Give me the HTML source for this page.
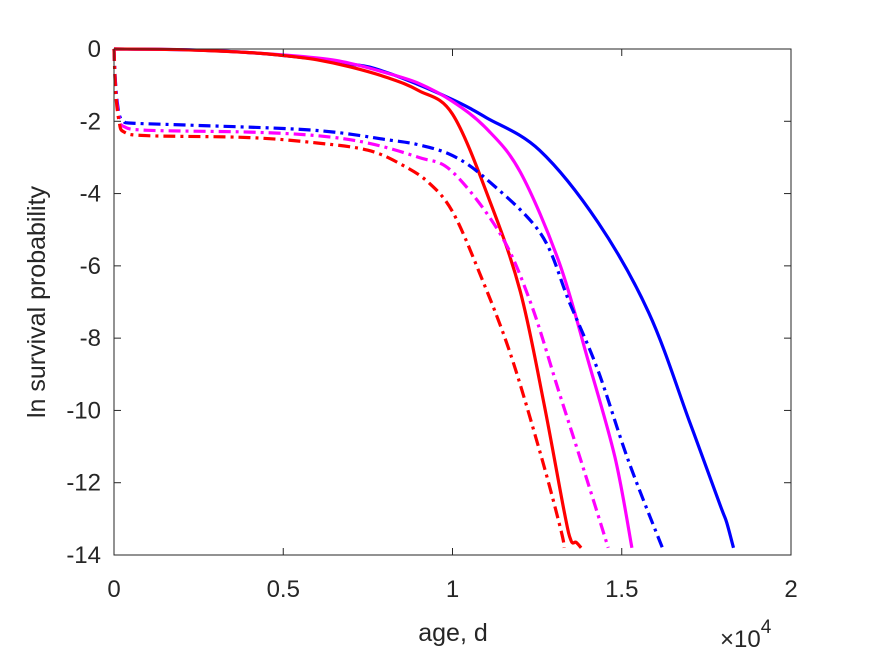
<!DOCTYPE html>
<html><head><meta charset="utf-8"><style>
body{margin:0;background:#fff}
svg text{font-family:"Liberation Sans",Arial,sans-serif;fill:#262626}
</style></head><body>
<svg id="chart" width="875" height="656" xmlns="http://www.w3.org/2000/svg" style="position:absolute;left:0;top:0">
<rect width="875" height="656" fill="#fff"/>
<g id="plot"></g>
<g id="axes"></g>
<text x="453" y="641" font-size="25" text-anchor="middle">age, d</text>
<text x="720" y="647" font-size="24">×10<tspan dy="-14" font-size="19">4</tspan></text>
<text transform="translate(45,302) rotate(-90)" font-size="25" text-anchor="middle">ln survival probability</text>
</svg>
<script>
const xTicks=[0,0.5,1,1.5,2];
const yTicks=[0,-2,-4,-6,-8,-10,-12,-14];
const blueSolidX=[0,1000,2000,3000,4000,5000,6000,7000,7550,8500,10000,11000,12570,14300,15800,17000,17900,18100,18300];
const blueSolidY=[0,-0.005,-0.02,-0.05,-0.1,-0.18,-0.28,-0.42,-0.5,-0.8,-1.4,-1.9,-2.8,-4.8,-7.3,-10.3,-12.6,-13.1,-13.8];
const magSolidX=[0,2000,4000,6000,7000,8000,9000,10000,11000,12000,13150,14000,14800,15300];
const magSolidY=[0,-0.02,-0.1,-0.25,-0.4,-0.65,-0.95,-1.45,-2.2,-3.4,-5.9,-8.6,-11.3,-13.8];
const redSolidX=[0,2000,4000,5000,6000,7000,8100,9000,10000,11100,12000,12700,13300,13500,13650,13800];
const redSolidY=[0,-0.02,-0.1,-0.18,-0.3,-0.5,-0.8,-1.15,-1.8,-4.2,-6.7,-9.8,-12.8,-13.6,-13.65,-13.8];
const blueDashX=[0,50,150,300,500,2000,5000,6500,8000,9000,10000,11000,12600,13450,14300,15200,16200];
const blueDashY=[0,-1.0,-1.8,-2.0,-2.05,-2.1,-2.2,-2.3,-2.5,-2.65,-2.95,-3.6,-5.1,-7,-8.9,-11.4,-13.8];
const magDashX=[0,50,150,300,1000,4000,6000,7500,9000,10000,11400,12300,13150,13900,14600];
const magDashY=[0,-1.1,-1.9,-2.15,-2.25,-2.3,-2.4,-2.6,-3.0,-3.4,-5.1,-7,-9.5,-11.7,-13.8];
const redDashX=[0,50,150,300,1000,4000,6000,7500,8500,9300,10000,10800,11700,12600,13200,13300];
const redDashY=[0,-1.2,-2.0,-2.3,-2.4,-2.45,-2.6,-2.8,-3.2,-3.7,-4.5,-6.2,-8.4,-11.2,-13.3,-13.8];

const L=114,R=791,T=49,B=555;
const sx=v=>L+v/20000*(R-L);
const sy=v=>T+(-v)/14*(B-T);
const NS="http://www.w3.org/2000/svg";
const plot=document.getElementById('plot'),axes=document.getElementById('axes');
function mk(tag,attrs,parent){const e=document.createElementNS(NS,tag);for(const k in attrs)e.setAttribute(k,attrs[k]);parent.appendChild(e);return e;}
function smooth(pts){
  let d='M'+pts[0][0].toFixed(1)+' '+pts[0][1].toFixed(1);
  for(let i=0;i<pts.length-1;i++){
    const p0=pts[Math.max(0,i-1)],p1=pts[i],p2=pts[i+1],p3=pts[Math.min(pts.length-1,i+2)];
    const c1=[p1[0]+(p2[0]-p0[0])/6,p1[1]+(p2[1]-p0[1])/6];
    const c2=[p2[0]-(p3[0]-p1[0])/6,p2[1]-(p3[1]-p1[1])/6];
    d+=' C'+c1[0].toFixed(1)+' '+c1[1].toFixed(1)+' '+c2[0].toFixed(1)+' '+c2[1].toFixed(1)+' '+p2[0].toFixed(1)+' '+p2[1].toFixed(1);
  }
  return d;
}
function series(xs,ys,color,dash,name){
  const pts=xs.map((x,i)=>[sx(x),sy(ys[i])]);
  const p=mk('path',{d:smooth(pts),fill:'none',stroke:color,'stroke-width':3.2,'stroke-linejoin':'round'},plot);
  if(dash)p.setAttribute('stroke-dasharray','12,5,3,5');
  
  
}
series(blueSolidX,blueSolidY,'#0000ff',false,'blue-solid-line');
series(magSolidX,magSolidY,'#ff00ff',false,'magenta-solid-line');
series(redSolidX,redSolidY,'#ff0000',false,'red-solid-line');
series(blueDashX,blueDashY,'#0000ff',true,'blue-dashdot-line');
series(magDashX,magDashY,'#ff00ff',true,'magenta-dashdot-line');
series(redDashX,redDashY,'#ff0000',true,'red-dashdot-line');

const box=mk('rect',{x:L,y:T,width:R-L,height:B-T,fill:'none',stroke:'#262626','stroke-width':1},axes);


xTicks.forEach(t=>{const x=sx(t*10000);
  mk('line',{x1:x,x2:x,y1:B,y2:B-7,stroke:'#262626'},axes);
  mk('line',{x1:x,x2:x,y1:T,y2:T+7,stroke:'#262626'},axes);
  const tx=mk('text',{x:x,y:B+42,'font-size':24,'text-anchor':'middle'},axes);tx.textContent=String(t);
  
  
});
yTicks.forEach(t=>{const y=sy(t);
  mk('line',{x1:L,x2:L+7,y1:y,y2:y,stroke:'#262626'},axes);
  mk('line',{x1:R,x2:R-7,y1:y,y2:y,stroke:'#262626'},axes);
  const tx=mk('text',{x:L-13,y:y+8,'font-size':24,'text-anchor':'end'},axes);tx.textContent=String(t);
  
  
});
</script>
</body></html>
